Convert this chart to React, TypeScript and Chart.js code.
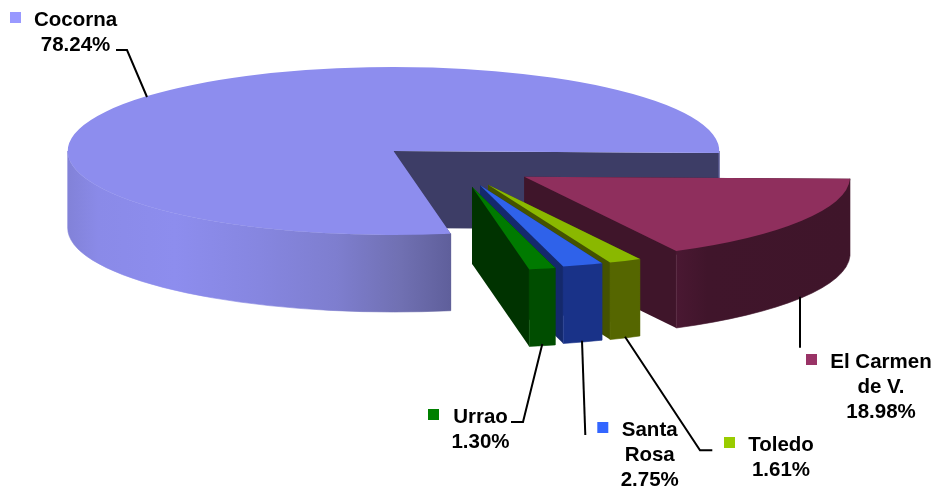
import React, { useEffect, useRef } from "react";
import { Chart, registerables } from "chart.js";

Chart.register(...registerables);

// Slice names, in the drawing order of the pie (clockwise from 3 o'clock).
const categories = ["El Carmen de V.", "Toledo", "Santa Rosa", "Urrao", "Cocorna"];
// Printed percentages of the labels.
const printedLabels = ["18.98%", "1.61%", "2.75%", "1.30%", "78.24%"];
// Wedge sizes (the printed labels add up to more than 100).
const wedgeShares = [16.9, 1.61, 2.0, 1.3, 78.24];

const topColors = ["#8f2f5d", "#8ab800", "#2f62ea", "#007a00", "#8d8dee"];
const keyColors = ["#993366", "#99cc00", "#3366ff", "#008000", "#9999ff"];
const sideColors = ["#3f152a", "#445200", "#14296c", "#003300", "#3d3d66"];
const wallStops: [number, string][][] = [
  [[0, "#4a1832"], [0.18, "#40152b"], [1, "#3f152a"]],
  [[0, "#556600"], [1, "#556600"]],
  [[0, "#193288"], [1, "#193288"]],
  [[0, "#004d00"], [1, "#004d00"]],
  [[0, "#8282d8"], [0.08, "#8a8ae8"], [0.28, "#8d8dee"], [0.5, "#8686e0"], [0.7, "#7e7ecf"], [0.87, "#7070b2"], [1, "#5f5f9b"]],
];

const PIE = { cx: 393.5, cy: 151, rx: 325.8, ry: 84, depth: 77 };
const explode = [
  { dx: 130.8, dy: 25.7 },
  { dx: 94.5, dy: 33.7 },
  { dx: 86.5, dy: 34.3 },
  { dx: 78.5, dy: 35.7 },
  { dx: 0, dy: 0 },
];
const paintOrder = [4, 0, 1, 2, 3];

const labelLayout = [
  { lines: ["El Carmen", "de V."], cx: 881, base: 367.7, key: [806, 354], leader: [[800, 296.7], [800, 347.7]] },
  { lines: ["Toledo"], cx: 781, base: 451, key: [724, 437], leader: [[712.3, 450.3], [700, 450.3], [625, 336.7]] },
  { lines: ["Santa", "Rosa"], cx: 649.7, base: 435.7, key: [597.3, 422], leader: [[585.3, 435], [582, 340.7]] },
  { lines: ["Urrao"], cx: 480.5, base: 422.7, key: [428, 409], leader: [[511, 422], [523, 422], [542.3, 344]] },
  { lines: ["Cocorna"], cx: 75.5, base: 26, key: [10, 12], leader: [[116, 50], [127, 50], [147, 97]] },
];

const pie3d = {
  id: "pie3d",
  beforeDatasetsDraw(chart: any) {
    const ctx: CanvasRenderingContext2D = chart.ctx;
    const arcs = chart.getDatasetMeta(0).data;
    for (const i of paintOrder) {
      const el = arcs[i];
      const { startAngle: a0, endAngle: a1, outerRadius: R, x, y } = el;
      const ox = PIE.cx + explode[i].dx;
      const oy = PIE.cy + explode[i].dy;
      const { rx, ry, depth } = PIE;

      // radial faces
      ctx.fillStyle = sideColors[i];
      for (const a of [a0, a1]) {
        const px = ox + rx * Math.cos(a);
        const py = oy + ry * Math.sin(a);
        ctx.beginPath();
        ctx.moveTo(ox, oy);
        ctx.lineTo(px, py);
        ctx.lineTo(px, py + depth);
        ctx.lineTo(ox, oy + depth);
        ctx.closePath();
        ctx.fill();
      }

      // rim wall: only the part of the arc that faces the viewer
      for (let k = -1; k <= 2; k++) {
        const s = Math.max(a0, 2 * Math.PI * k);
        const e = Math.min(a1, 2 * Math.PI * k + Math.PI);
        if (e <= s) continue;
        const xs = ox + rx * Math.cos(s);
        const xe = ox + rx * Math.cos(e);
        const grad = ctx.createLinearGradient(Math.min(xs, xe), 0, Math.max(xs, xe), 0);
        for (const [p, c] of wallStops[i]) grad.addColorStop(p, c);
        ctx.fillStyle = grad;
        ctx.strokeStyle = grad;
        ctx.lineWidth = 0.6;
        ctx.beginPath();
        ctx.ellipse(ox, oy, rx, ry, 0, s, e, false);
        ctx.ellipse(ox, oy + depth, rx, ry, 0, e, s, true);
        ctx.closePath();
        ctx.fill();
        ctx.stroke();
      }

      // top face: the library's own arc, squashed into an ellipse
      ctx.save();
      ctx.translate(ox, oy);
      ctx.scale(rx / R, ry / R);
      ctx.translate(-x, -y);
      el.draw(ctx);
      ctx.restore();
    }
    return false;
  },
  afterDraw(chart: any) {
    const ctx: CanvasRenderingContext2D = chart.ctx;
    ctx.save();
    ctx.strokeStyle = "#000";
    ctx.lineWidth = 2;
    ctx.fillStyle = "#000";
    ctx.font = 'bold 20.5px "Liberation Sans", Arial, sans-serif';
    ctx.textAlign = "center";
    ctx.textBaseline = "alphabetic";
    labelLayout.forEach((l, i) => {
      ctx.beginPath();
      l.leader.forEach(([px, py], n) => (n ? ctx.lineTo(px, py) : ctx.moveTo(px, py)));
      ctx.stroke();
      ctx.fillStyle = keyColors[i];
      ctx.fillRect(l.key[0], l.key[1], 11, 11);
      ctx.fillStyle = "#000";
      const lines = [...l.lines, printedLabels[i]];
      lines.forEach((t, n) => ctx.fillText(t, l.cx, l.base + n * 24.9));
    });
    ctx.restore();
  },
};

export default function App() {
  const ref = useRef<HTMLCanvasElement>(null);
  useEffect(() => {
    document.body.style.margin = "0";
    const chart = new Chart(ref.current!, {
      type: "pie",
      data: {
        labels: categories,
        datasets: [{ data: wedgeShares, backgroundColor: topColors, borderWidth: 0 }],
      },
      options: {
        responsive: false,
        animation: false,
        rotation: 91.4,
        plugins: { legend: { display: false }, tooltip: { enabled: false } },
      },
      plugins: [pie3d],
    } as any);
    return () => chart.destroy();
  }, []);
  return <canvas ref={ref} width={938} height={490} style={{ display: "block" }} />;
}
